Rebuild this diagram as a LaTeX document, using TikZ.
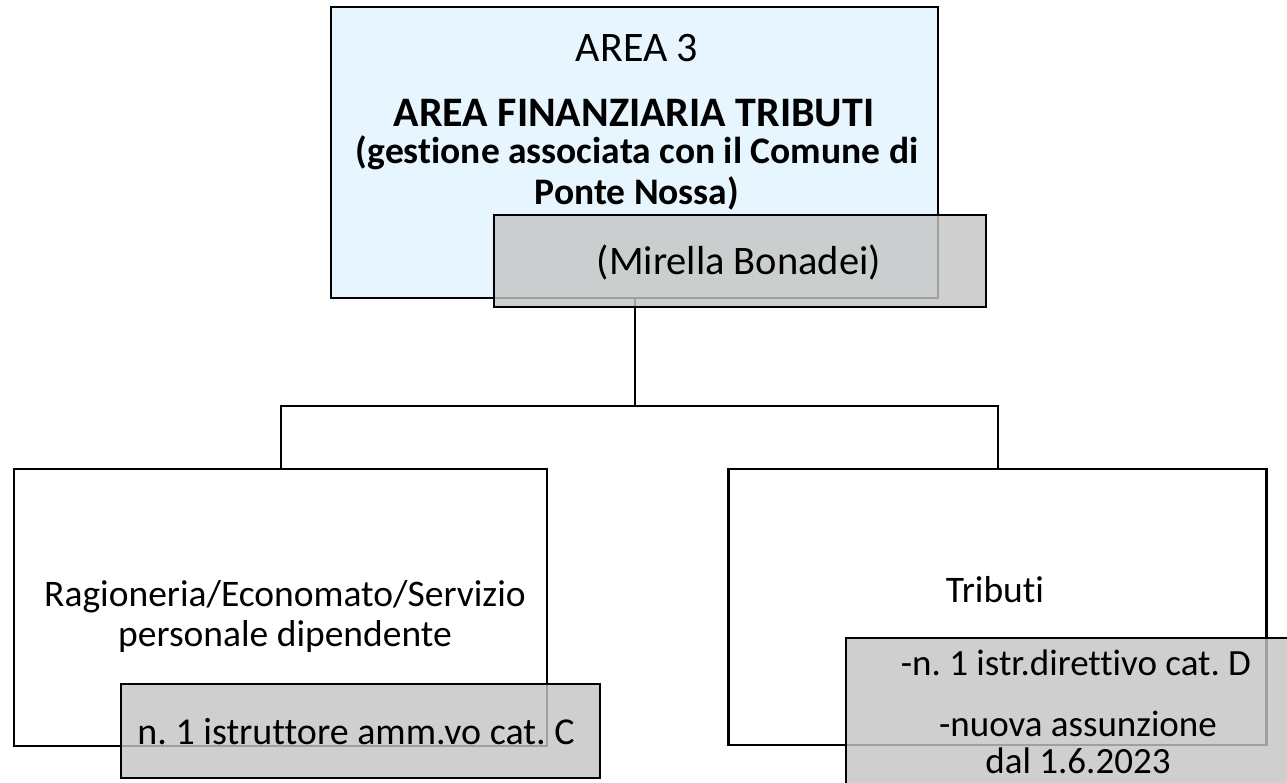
\documentclass[tikz,border=0pt]{standalone}
\usepackage{fontspec}
\setmainfont[Ligatures=NoCommon]{Carlito}
\definecolor{topblue}{RGB}{230,245,254}
\definecolor{greybox}{RGB}{197,197,197}
\frenchspacing
\begin{document}
\begin{tikzpicture}[x=1pt,y=-1pt,
  unitbox/.style={draw=black,line width=2.2pt,inner sep=0pt,anchor=center},
  greyrect/.style={draw=black,line width=2.2pt,fill=greybox,fill opacity=0.81,inner sep=0pt},
  conn/.style={draw=black,line width=2pt},
  txt/.style={inner sep=0pt,align=center,font=\fontsize{37.5}{40}\selectfont}]
\useasboundingbox[fill=white] (0,0) rectangle (1287,783);
% boxes
\node[unitbox,fill=topblue,minimum width=607pt,minimum height=291pt] (top) at (634.5,152.5) {};
\node[unitbox,fill=white,minimum width=533pt,minimum height=277pt] (left) at (280.5,607.5) {};
\node[unitbox,fill=white,minimum width=538pt,minimum height=276pt] (right) at (997.5,607) {};
% connectors
\coordinate (bus) at (634.5,405.5);
\draw[conn] (top.south) -- (bus);
\draw[conn] (left.north) |- (bus) -| (right.north);
% grey overlays
\node[greyrect,minimum width=492pt,minimum height=92pt] (mir) at (740,261) {};
\node[greyrect,minimum width=479pt,minimum height=94pt] (lgrey) at (360.5,731) {};
\node[greyrect,minimum width=460pt,minimum height=160pt] (rgrey) at (1076,718) {};
% texts
\node[txt,font=\fontsize{42}{44}\selectfont] (t1) at (637,48) {AREA 3};
\node[txt,font=\fontsize{42}{44}\selectfont\bfseries] (t2) at (634,113) {AREA FINANZIARIA TRIBUTI};
\node[txt,font=\fontsize{37.5}{41}\selectfont\bfseries] (t3) at (637,173) {(gestione associata con il Comune di\\Ponte Nossa)};
\node[txt,font=\fontsize{40.5}{42}\selectfont] (t4) at (739,262) {(Mirella Bonadei)};
\node[txt] (t5) at (285,616) {Ragioneria/Economato/Servizio\\personale dipendente};
\node[txt] (t6) at (995,590) {Tributi};
\node[txt,font=\fontsize{38}{40}\selectfont] (t7) at (356,732) {n. 1 istruttore amm.vo cat. C};
\node[txt,font=\fontsize{37}{40}\selectfont] (t8) at (1076,663) {-n. 1 istr.direttivo cat. D};
\node[txt,font=\fontsize{37}{37}\selectfont] (t9) at (1078,742) {-nuova assunzione\\dal 1.6.2023};
\end{tikzpicture}
\end{document}
